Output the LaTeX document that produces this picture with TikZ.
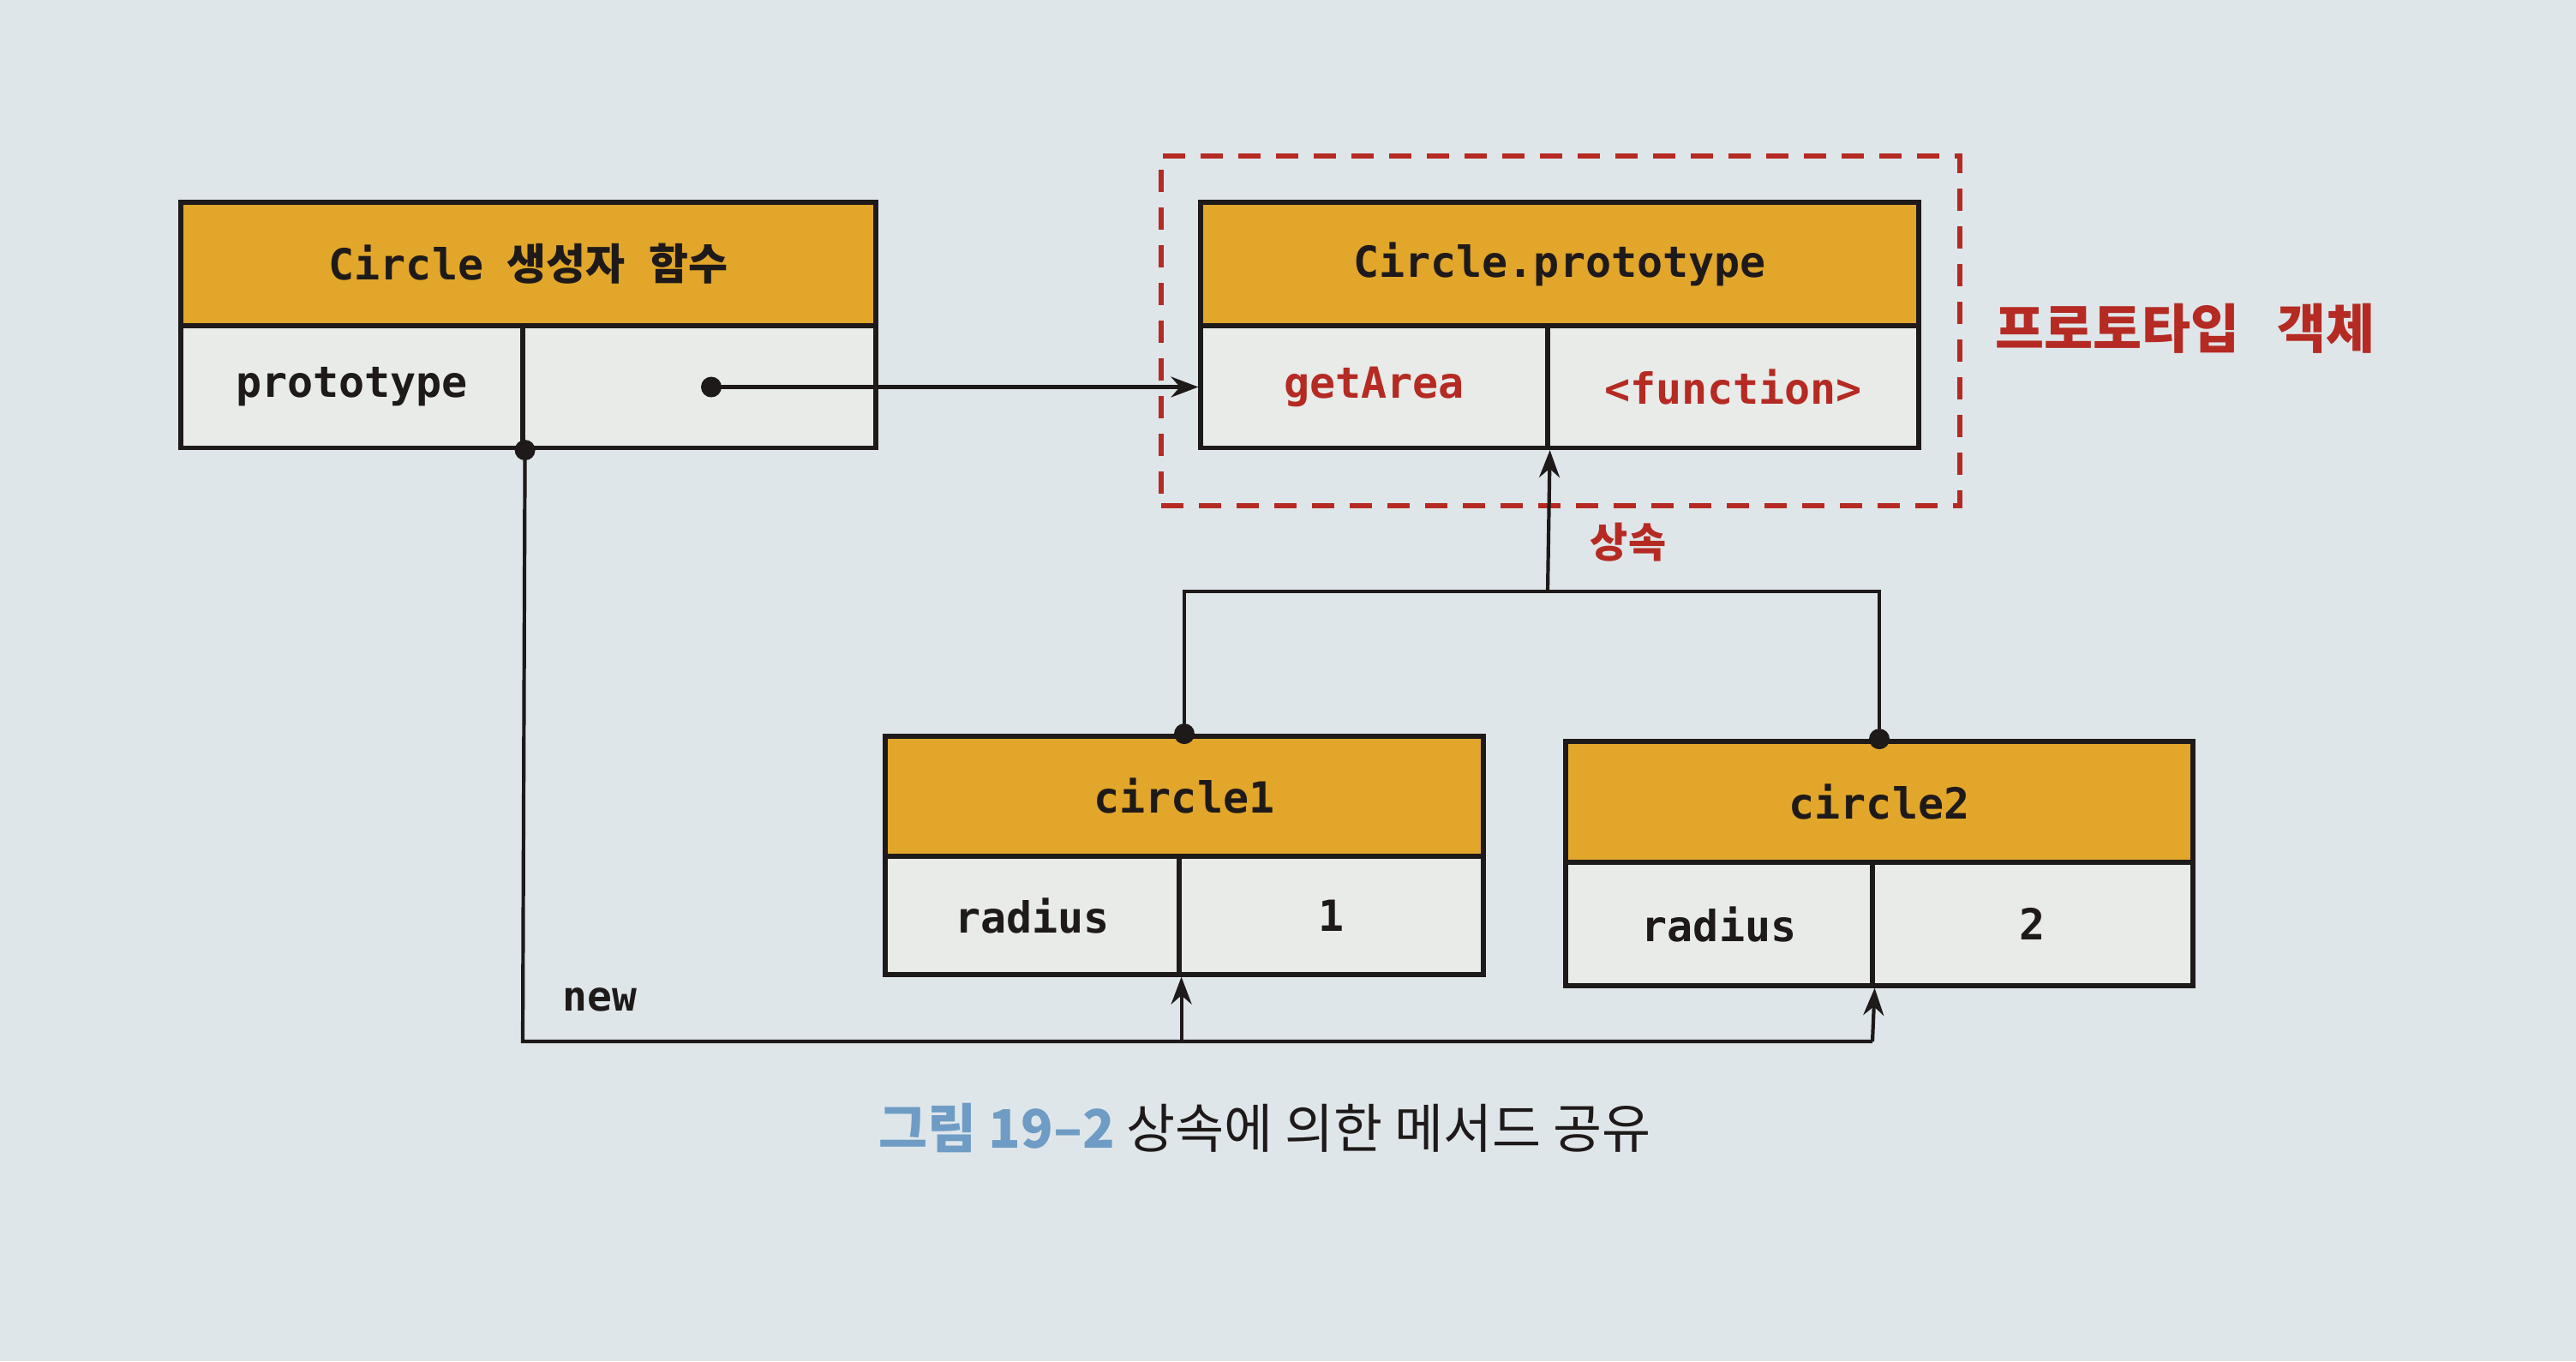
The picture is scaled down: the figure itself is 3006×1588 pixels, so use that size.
\documentclass[tikz,border=0pt]{standalone}
\usepackage{fontspec}
\setmonofont{DejaVu Sans Mono}
\newfontfamily\kr{Noto Sans CJK KR}
\usetikzlibrary{arrows.meta}
\definecolor{bg}{HTML}{DFE6EA}
\definecolor{gold}{HTML}{E1A62A}
\definecolor{cell}{HTML}{E8EBE8}
\definecolor{redt}{HTML}{B52A22}
\definecolor{capblue}{HTML}{6E9CC4}
\definecolor{ink}{HTML}{1E1A1A}
\begin{document}
\begin{tikzpicture}[x=0.25pt,y=-0.25pt,
  hdr/.style={draw=ink,line width=1.45pt,fill=gold,minimum width=#1,minimum height=36pt,inner sep=0pt,
    font=\ttfamily\bfseries\fontsize{12.5}{14}\selectfont,text=ink},
  cellbox/.style={draw=ink,line width=1.3pt,fill=cell,minimum width=#1,minimum height=35.5pt,inner sep=0pt,
    font=\ttfamily\bfseries\fontsize{12.5}{14}\selectfont,text=ink},
  redtext/.style={text=redt},
  conn/.style={draw=ink,line width=1.05pt},
  arr/.style={conn,-{Stealth[length=8pt,width=6pt]}},
  dotmark/.style={fill=ink},
  groupbox/.style={draw=redt,line width=1.5pt,dash pattern=on 6.5pt off 4.5pt,minimum width=233pt,minimum height=102pt,inner sep=0pt}
]
\useasboundingbox[fill=bg] (0,0) rectangle (3006,1588);

% prototype group
\node[groupbox] (pgroup) at (1821,386) {};

% Circle constructor
\node[hdr=202.75pt] (ctorH) at (616.5,308) {Circle\hspace{0.55em}{\kr\bfseries 생성자\hspace{0.55em}함수}};
\node[cellbox=99.75pt] (ctorK) at (410.5,451.5) {prototype};
\node[cellbox=103pt] (ctorV) at (816,451.5) {};
\coordinate (ctorDot) at (830,451.5);

% Circle.prototype
\node[hdr=209.5pt] (protoH) at (1820,308) {Circle.prototype};
\node[cellbox=101.25pt,redtext] (protoK) at (1603.5,451.5) {getArea};
\node[cellbox=108.25pt,redtext] (protoV) at (2022.5,451.5) {<function>};

\node[text=redt,font=\kr\bfseries\fontsize{15.5}{18}\selectfont] (plabel) at (2550,383) {프로토타입\hspace{0.7em}객체};

% circle1
\node[hdr=174.5pt,minimum height=35pt] (c1H) at (1382,929) {circle1};
\node[cellbox=85.75pt,minimum height=34.5pt] (c1K) at (1204.5,1068) {radius};
\node[cellbox=88.75pt,minimum height=34.5pt] (c1V) at (1553.5,1068) {1};

% circle2
\node[hdr=183pt,minimum height=35.25pt] (c2H) at (2193,935.5) {circle2};
\node[cellbox=89.5pt,minimum height=36pt] (c2K) at (2006,1078) {radius};
\node[cellbox=93.5pt,minimum height=36pt] (c2V) at (2372,1078) {2};

% prototype reference
\draw[arr] (ctorDot) -- (protoK.west);
\fill[dotmark] (ctorDot) circle (3pt);

% inheritance
\coordinate (inh) at (1806,690);
\draw[conn] (c1H.north) |- (inh) -| (c2H.north);
\draw[arr] (inh) -- (protoK.south east);
\fill[dotmark] (c1H.north) circle (3pt);
\fill[dotmark] (c2H.north) circle (3pt);
\node[text=redt,font=\kr\bfseries\fontsize{12}{14}\selectfont] (inhlabel) at (1900,633) {상속};

% new
\coordinate (newL) at (610,1215);
\coordinate (newR) at (2185,1215);
\draw[conn] (ctorK.south east) -- (newL) -- (newR);
\draw[arr] (c1K.south east |- newL) -- (c1K.south east);
\draw[arr] (newR) -- (c2K.south east);
\fill[dotmark] (ctorK.south east) circle (3pt);
\node[text=ink,font=\ttfamily\bfseries\fontsize{12}{14}\selectfont] (newlabel) at (700,1166) {new};

% caption
\node[font=\kr\fontsize{15.5}{18}\selectfont,text=ink] (caption) at (1476,1316)
  {{\bfseries\color{capblue}그림 19–2}\ 상속에 의한 메서드 공유};
\end{tikzpicture}
\end{document}
